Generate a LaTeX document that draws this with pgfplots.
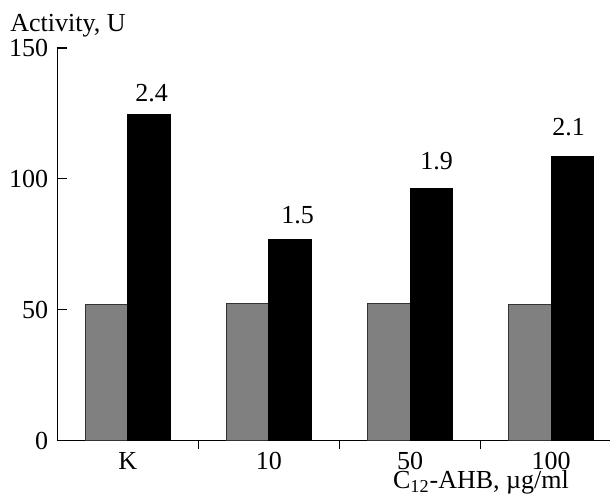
\documentclass[border=0pt]{standalone}
\usepackage{fontspec}
\setmainfont{Liberation Serif}
\usepackage{pgfplots}
\pgfplotsset{compat=1.18}
\definecolor{barGray}{HTML}{808080}
\definecolor{edgeGray}{HTML}{333333}
\begin{document}
\fontsize{13}{15}\selectfont
\begin{tikzpicture}
\begin{axis}[
  scale only axis, width=276.35pt, height=196.25pt,
  xmin=-0.5, xmax=3.417, ymin=0, ymax=150,
  axis x line*=bottom, axis y line*=left,
  axis line style={line width=0.6pt},
  ytick={0,50,100,150},
  xtick={0,1,2,3}, xticklabels={K,10,50,100},
  minor xtick={0.5,1.5,2.5},
  major x tick style={draw=none},
  tick align=inside,
  major tick length=5pt, minor tick length=4.5pt,
  tick style={line width=0.6pt, black},
  /pgf/number format/assume math mode=true,
  ticklabel style={font=\fontsize{13}{15}\selectfont},
  xticklabel style={anchor=base, yshift=-9.5pt},
  ybar, bar width=0.3,
  clip=false,
]
\addplot[fill=barGray, draw=edgeGray, line width=0.5pt, bar shift=-0.15]
  coordinates {(0,52.0) (1,52.4) (2,52.4) (3,52.0)};
\addplot[fill=black, draw=black, line width=0.5pt, bar shift=0.15]
  coordinates {(0,124.6) (1,76.9) (2,96.4) (3,108.7)};
\node[anchor=base] at (axis cs:0.168,129.7) {2.4};
\node[anchor=base] at (axis cs:1.203,83.0) {1.5};
\node[anchor=base] at (axis cs:2.188,103.7) {1.9};
\node[anchor=base] at (axis cs:3.123,116.7) {2.1};
\end{axis}
\node[anchor=base west, inner sep=0] at (-23.65pt,204.25pt) {Activity, U};
\node[anchor=base, inner sep=0] at (211.85pt,-24.25pt) {C\textsubscript{12}-AHB, µg/ml};
\pgfresetboundingbox
\path[use as bounding box] (-28.65pt,-30.75pt) rectangle (276.35pt,220.25pt);
\end{tikzpicture}
\end{document}
